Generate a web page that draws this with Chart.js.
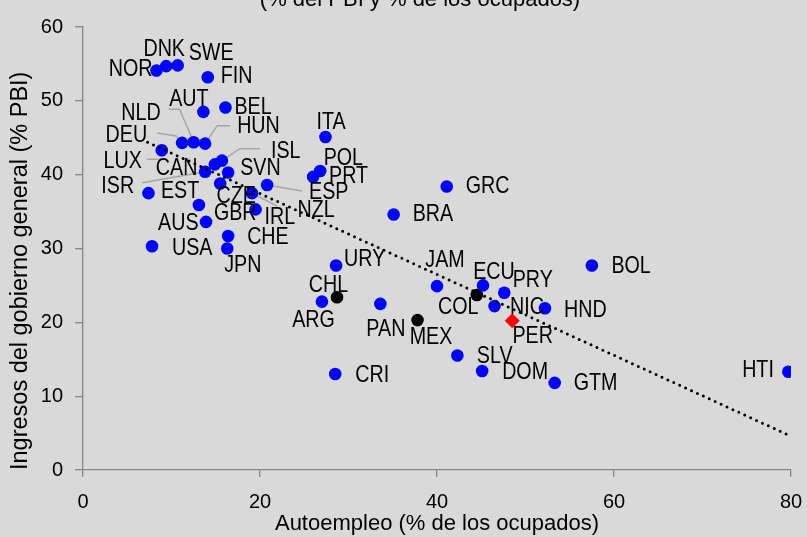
<!DOCTYPE html>
<html>
<head>
<meta charset="utf-8">
<script src="https://cdn.jsdelivr.net/npm/chart.js@4.4.1/dist/chart.umd.min.js"></script>
<style>
  html, body { margin: 0; padding: 0; background: #d9d9d9; }
  #wrap { width: 807px; height: 537px; overflow: hidden; }
</style>
</head>
<body>
<div id="wrap"><canvas id="scatterChart" width="807" height="537"></canvas></div>
<script>
const countries = ['NOR','DNK','SWE','FIN','AUT','BEL','NLD','DEU','HUN','LUX','CAN','ISL','ISR','SVN','EST','CZE','IRL','ESP','GBR','NZL','AUS','CHE','JPN','USA',
    'ITA','POL','PRT','GRC','BRA','URY','JAM','CHL','ARG','PAN','MEX','COL','ECU','PRY','NIC','HND','PER','SLV','DOM','CRI','GTM','BOL','HTI'];
const selfEmployment = [8.3,9.4,10.7,14.1,13.6,16.1,12.5,11.2,13.8,8.9,14.9,15.7,13.8,16.4,7.4,15.5,19.1,20.8,13.1,19.5,13.9,16.4,16.3,7.8,
    27.4,26.8,26.0,41.1,35.1,28.6,40.0,28.7,27.0,33.6,37.8,44.5,45.2,47.6,46.5,52.2,48.5,42.3,45.1,28.5,53.3,57.5,79.7];
const govRevenue = [54.1,54.7,54.8,53.2,48.5,49.1,44.4,44.3,44.2,43.3,41.4,41.9,40.4,40.3,37.5,38.8,37.5,38.6,35.9,35.3,33.6,31.7,30.0,30.3,
    45.1,40.5,39.7,38.4,34.6,27.7,24.9,23.4,22.8,22.5,20.3,23.7,25.0,24.0,22.2,21.9,20.2,15.5,13.4,13.0,11.8,27.7,13.3];
const blackMarked = ['CHL','MEX','COL'];
const highlighted = 'PER';
// linear fit, end points
const trendX = [7.3, 79.6];
const trendY = [44.4, 4.8];
const xTicks = [0, 20, 40, 60, 80];
const yTicks = [0, 10, 20, 30, 40, 50, 60];

const FONT = "'Liberation Sans', Arial, sans-serif";
const SQUEEZE = 0.82;   // narrow look for the country codes
const TEXT = '#000000';
const AXIS = '#868686';

// label anchor per country: [align, dx, dy] in px from the marker
const labelPos = {
    NOR: ['right', -4, -1], DNK: ['center', -2, -17], SWE: ['left', 11, -12], FIN: ['left', 13, -1],
    AUT: ['center', -14.5, -13], BEL: ['left', 9, 0], NLD: ['right', -33, -29], DEU: ['right', -35, -8],
    HUN: ['left', 32, -17], LUX: ['right', -20, 11], CAN: ['right', -17.5, 4], ISL: ['left', 49, -9],
    ISR: ['right', -71, 14.5], SVN: ['left', 12, -4], EST: ['left', 12.5, -2], CZE: ['center', 16, 13],
    IRL: ['left', 12.5, 24], ESP: ['left', 42, 7], GBR: ['left', 15, 8], NZL: ['left', 42, 1],
    AUS: ['right', -7.5, 1], CHE: ['left', 19, 1], JPN: ['center', 15.5, 17], USA: ['left', 20, 2],
    ITA: ['center', 5.5, -15], POL: ['left', 3.5, -13], PRT: ['left', 16, -1], GRC: ['left', 19, 0],
    BRA: ['left', 19, 0], URY: ['left', 8, -6], JAM: ['center', 8, -26], CHL: ['center', -8.5, -12],
    ARG: ['center', -8.5, 19], PAN: ['center', 5.5, 25.5], MEX: ['center', 13.5, 17], COL: ['center', -18.5, 12],
    ECU: ['center', 11, -13.5], PRY: ['center', 28.5, -12.5], NIC: ['left', 15.5, 1], HND: ['left', 19, 2],
    PER: ['center', 20.5, 15.5], SLV: ['left', 19.5, 1], DOM: ['left', 20, 1], CRI: ['left', 20, 1],
    GTM: ['left', 19, 0], BOL: ['left', 19.5, 1], HTI: ['right', -14.5, -1]
};

// gray leader lines for the crowded labels, as px offsets from the marker
const leaders = {
    NLD: [[-25, -33], [-14, -33], [0, 0]],
    DEU: [[-25, -10], [-6, -7], [0, 0]],
    HUN: [[25, -18], [12, -18], [0, 0]],
    LUX: [[-15, 9], [-2, 9]],
    ISL: [[38, -12], [18, -12], [0, 0]],
    ISR: [[-63, 11], [0, 0]],
    IRL: [[25, 13], [0, 0]],
    ESP: [[35, 6], [0, 0]]
};

const markerColors = countries.map(c => c === highlighted ? '#ff0000' : (blackMarked.includes(c) ? '#000000' : '#0000ff'));
const markerStyles = countries.map(c => c === highlighted ? 'rectRot' : 'circle');
const markerSizes = countries.map(c => c === highlighted ? 7.5 : 6.3);

function narrowText(ctx, text, x, y, align) {
    ctx.save();
    ctx.translate(x, y);
    ctx.scale(SQUEEZE, 1);
    ctx.textAlign = align;
    ctx.fillText(text, 0, 0);
    ctx.restore();
}

const countryLabels = {
    id: 'countryLabels',
    beforeDatasetsDraw(chart) {
        const ctx = chart.ctx;
        const meta = chart.getDatasetMeta(1);
        ctx.save();
        ctx.strokeStyle = '#a6a6a6';
        ctx.lineWidth = 1.5;
        meta.data.forEach((pt, i) => {
            const lead = leaders[countries[i]];
            if (!lead) return;
            ctx.beginPath();
            lead.forEach(([dx, dy], j) => {
                if (j === 0) ctx.moveTo(pt.x + dx, pt.y + dy);
                else ctx.lineTo(pt.x + dx, pt.y + dy);
            });
            ctx.stroke();
        });
        ctx.restore();
    },
    afterDatasetsDraw(chart) {
        const ctx = chart.ctx;
        const meta = chart.getDatasetMeta(1);
        ctx.save();
        ctx.font = '24px ' + FONT;
        ctx.fillStyle = TEXT;
        ctx.textBaseline = 'middle';
        meta.data.forEach((pt, i) => {
            const pos = labelPos[countries[i]];
            if (!pos) return;
            narrowText(ctx, countries[i], pt.x + pos[1], pt.y + pos[2], pos[0]);
        });
        ctx.restore();
    },
    afterDraw(chart) {
        // second line of the heading; the first line sits above the canvas
        const ctx = chart.ctx;
        ctx.save();
        ctx.font = '22px ' + FONT;
        ctx.fillStyle = TEXT;
        ctx.textBaseline = 'alphabetic';
        ctx.textAlign = 'center';
        ctx.fillText('(% del PBI y % de los ocupados)', 420, 6);
        ctx.restore();
    }
};

const ctx = document.getElementById('scatterChart').getContext('2d');
new Chart(ctx, {
    type: 'scatter',
    data: {
        datasets: [{
            type: 'line',
            label: 'Tendencia',
            data: trendX.map((x, i) => ({ x: x, y: trendY[i] })),
            borderColor: '#000000',
            borderWidth: 3,
            borderDash: [0, 6.5],
            borderCapStyle: 'round',
            pointRadius: 0,
            fill: false
        }, {
            label: 'Países',
            data: countries.map((c, i) => ({ x: selfEmployment[i], y: govRevenue[i] })),
            backgroundColor: markerColors,
            pointBackgroundColor: markerColors,
            pointStyle: markerStyles,
            pointRadius: markerSizes,
            pointBorderWidth: 0,
            borderWidth: 0
        }]
    },
    options: {
        responsive: false,
        devicePixelRatio: 1,
        animation: false,
        layout: { padding: { top: 27, right: 16, left: 0, bottom: 0 } },
        plugins: {
            legend: { display: false },
            tooltip: { enabled: false },
            title: { display: false }
        },
        scales: {
            x: {
                type: 'linear',
                min: 0, max: 80,
                afterBuildTicks: scale => { scale.ticks = xTicks.map(v => ({ value: v })); },
                afterFit: scale => { scale.height = 67; scale.paddingLeft = 0; scale.paddingRight = 0; },
                grid: { drawOnChartArea: false, drawTicks: true, tickLength: 7, color: AXIS, lineWidth: 1.3 },
                border: { color: AXIS, width: 1.3 },
                ticks: { color: TEXT, font: { family: FONT, size: 20 }, padding: 13 },
                title: { display: true, text: 'Autoempleo (% de los ocupados)', color: TEXT,
                    font: { family: FONT, size: 22 }, padding: { top: 0, bottom: 0 } }
            },
            y: {
                type: 'linear',
                min: 0, max: 60,
                afterBuildTicks: scale => { scale.ticks = yTicks.map(v => ({ value: v })); },
                afterFit: scale => { scale.width = 83; scale.paddingTop = 0; scale.paddingBottom = 0; },
                grid: { drawOnChartArea: false, drawTicks: true, tickLength: 8, color: AXIS, lineWidth: 1.3 },
                border: { color: AXIS, width: 1.3 },
                ticks: { color: TEXT, font: { family: FONT, size: 20 }, padding: 12 },
                title: { display: true, align: 'start', text: 'Ingresos del gobierno general (% PBI)', color: TEXT,
                    font: { family: FONT, size: 23.5 }, padding: { top: 6, bottom: 0 } }
            }
        }
    },
    plugins: [countryLabels]
});
</script>
</body>
</html>
